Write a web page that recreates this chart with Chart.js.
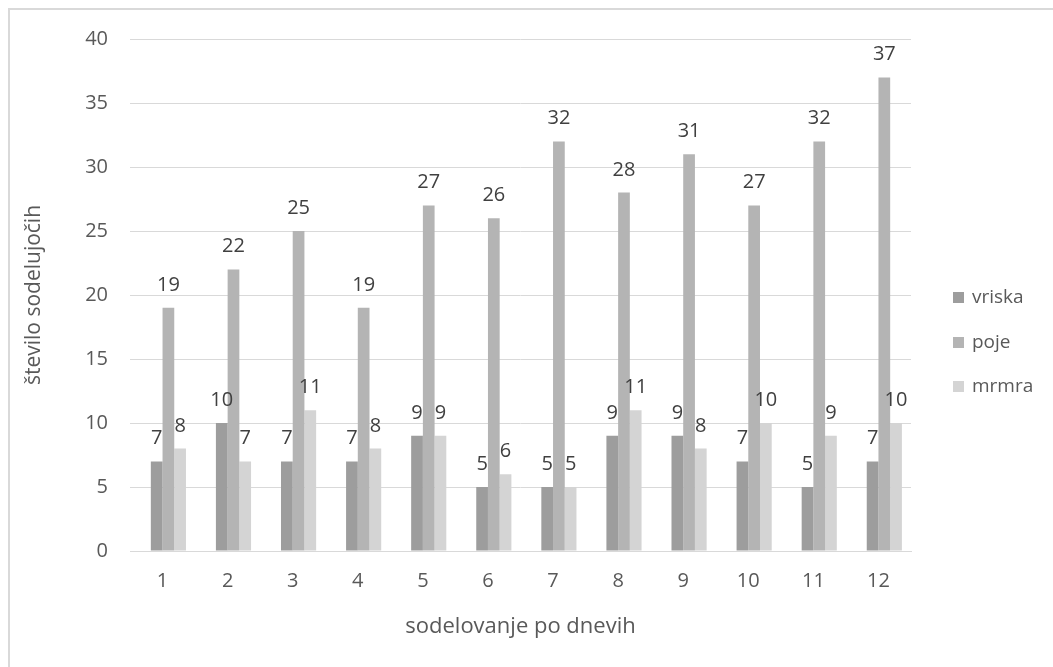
<!DOCTYPE html>
<html>
<head>
<meta charset="utf-8">
<script src="https://cdn.jsdelivr.net/npm/chart.js@4/dist/chart.umd.min.js"></script>
<style>
  html, body { margin: 0; padding: 0; background: #fff; overflow: hidden; }
  #wrap { position: relative; width: 1053px; height: 667px; }
  #frame { position: absolute; left: 8px; top: 8px; width: 1100px; height: 700px;
           border-left: 2px solid #d9d9d9; border-top: 2px solid #d9d9d9; }
  canvas { position: absolute; left: 0; top: 0; }
  .legend { position: absolute; left: 953px; font: 19px "Open Sans", sans-serif; color: #595959; line-height: 26px; }
  .legend span.box { display: inline-block; width: 11px; height: 11px; margin-right: 8px; vertical-align: 0px; }
</style>
</head>
<body>
<div id="wrap">
  <div id="frame"></div>
  <canvas id="chart" width="1053" height="667"></canvas>
</div>
<script>
const days   = ["1", "2", "3", "4", "5", "6", "7", "8", "9", "10", "11", "12"];
const vriska = [7, 10, 7, 7, 9, 5, 5, 9, 9, 7, 5, 7];
const poje   = [19, 22, 25, 19, 27, 26, 32, 28, 31, 27, 32, 37];
const mrmra  = [8, 7, 11, 8, 9, 6, 5, 11, 8, 10, 9, 10];

const seriesNames  = ["vriska", "poje", "mrmra"];
const seriesColors = ["#9d9d9d", "#b4b4b4", "#d4d4d4"];
const FONT = "'Open Sans', sans-serif";

// value labels above each bar (skips the empty spacer slot)
const barLabels = {
  id: "barLabels",
  afterDatasetsDraw(chart) {
    const ctx = chart.ctx;
    ctx.save();
    ctx.font = `20px ${FONT}`;
    ctx.fillStyle = "#404040";
    ctx.textAlign = "center";
    ctx.textBaseline = "alphabetic";
    chart.data.datasets.forEach((ds, i) => {
      if (ds.spacer) return;
      chart.getDatasetMeta(i).data.forEach((bar, j) => {
        ctx.fillText(ds.data[j], bar.x, bar.y - 17);
      });
    });
    ctx.restore();
  }
};

// the bars sit slightly right of the tick, so an empty first slot shifts the group
const spacer = { label: "", data: days.map(() => null), spacer: true,
                 barPercentage: 1, categoryPercentage: 0.72 };

new Chart(document.getElementById("chart"), {
  type: "bar",
  data: {
    labels: days,
    datasets: [spacer].concat([vriska, poje, mrmra].map((d, i) => ({
      label: seriesNames[i],
      data: d,
      backgroundColor: seriesColors[i],
      barPercentage: 1,
      categoryPercentage: 0.72
    })))
  },
  options: {
    responsive: false,
    animation: false,
    layout: { padding: { left: 15, right: 142, top: 39, bottom: 27 } },
    plugins: { legend: { display: false }, tooltip: { enabled: false } },
    scales: {
      x: {
        grid: { display: false, drawTicks: false },
        border: { color: "#d9d9d9", width: 1 },
        ticks: { color: "#595959", font: { family: FONT, size: 20 }, padding: 18 },
        title: { display: true, text: "sodelovanje po dnevih", color: "#595959",
                 font: { family: FONT, size: 22 }, padding: 0 },
        afterFit: s => { s.height = 89; }
      },
      y: {
        min: 0, max: 40,
        grid: { color: "#d9d9d9", drawTicks: false },
        border: { display: false },
        ticks: { stepSize: 5, color: "#595959", font: { family: FONT, size: 20 }, padding: 22 },
        title: { display: true, text: "število sodelujočih", color: "#595959",
                 font: { family: FONT, size: 21 }, padding: 6 },
        afterFit: s => { s.width = 115; }
      }
    }
  },
  plugins: [barLabels]
});

// legend on the right
const tops = [283, 328, 372];
seriesNames.forEach((n, i) => {
  const el = document.createElement("div");
  el.className = "legend";
  el.style.top = tops[i] + "px";
  el.innerHTML = `<span class="box" style="background:${seriesColors[i]}"></span>${n}`;
  document.getElementById("wrap").appendChild(el);
});
</script>
</body>
</html>
